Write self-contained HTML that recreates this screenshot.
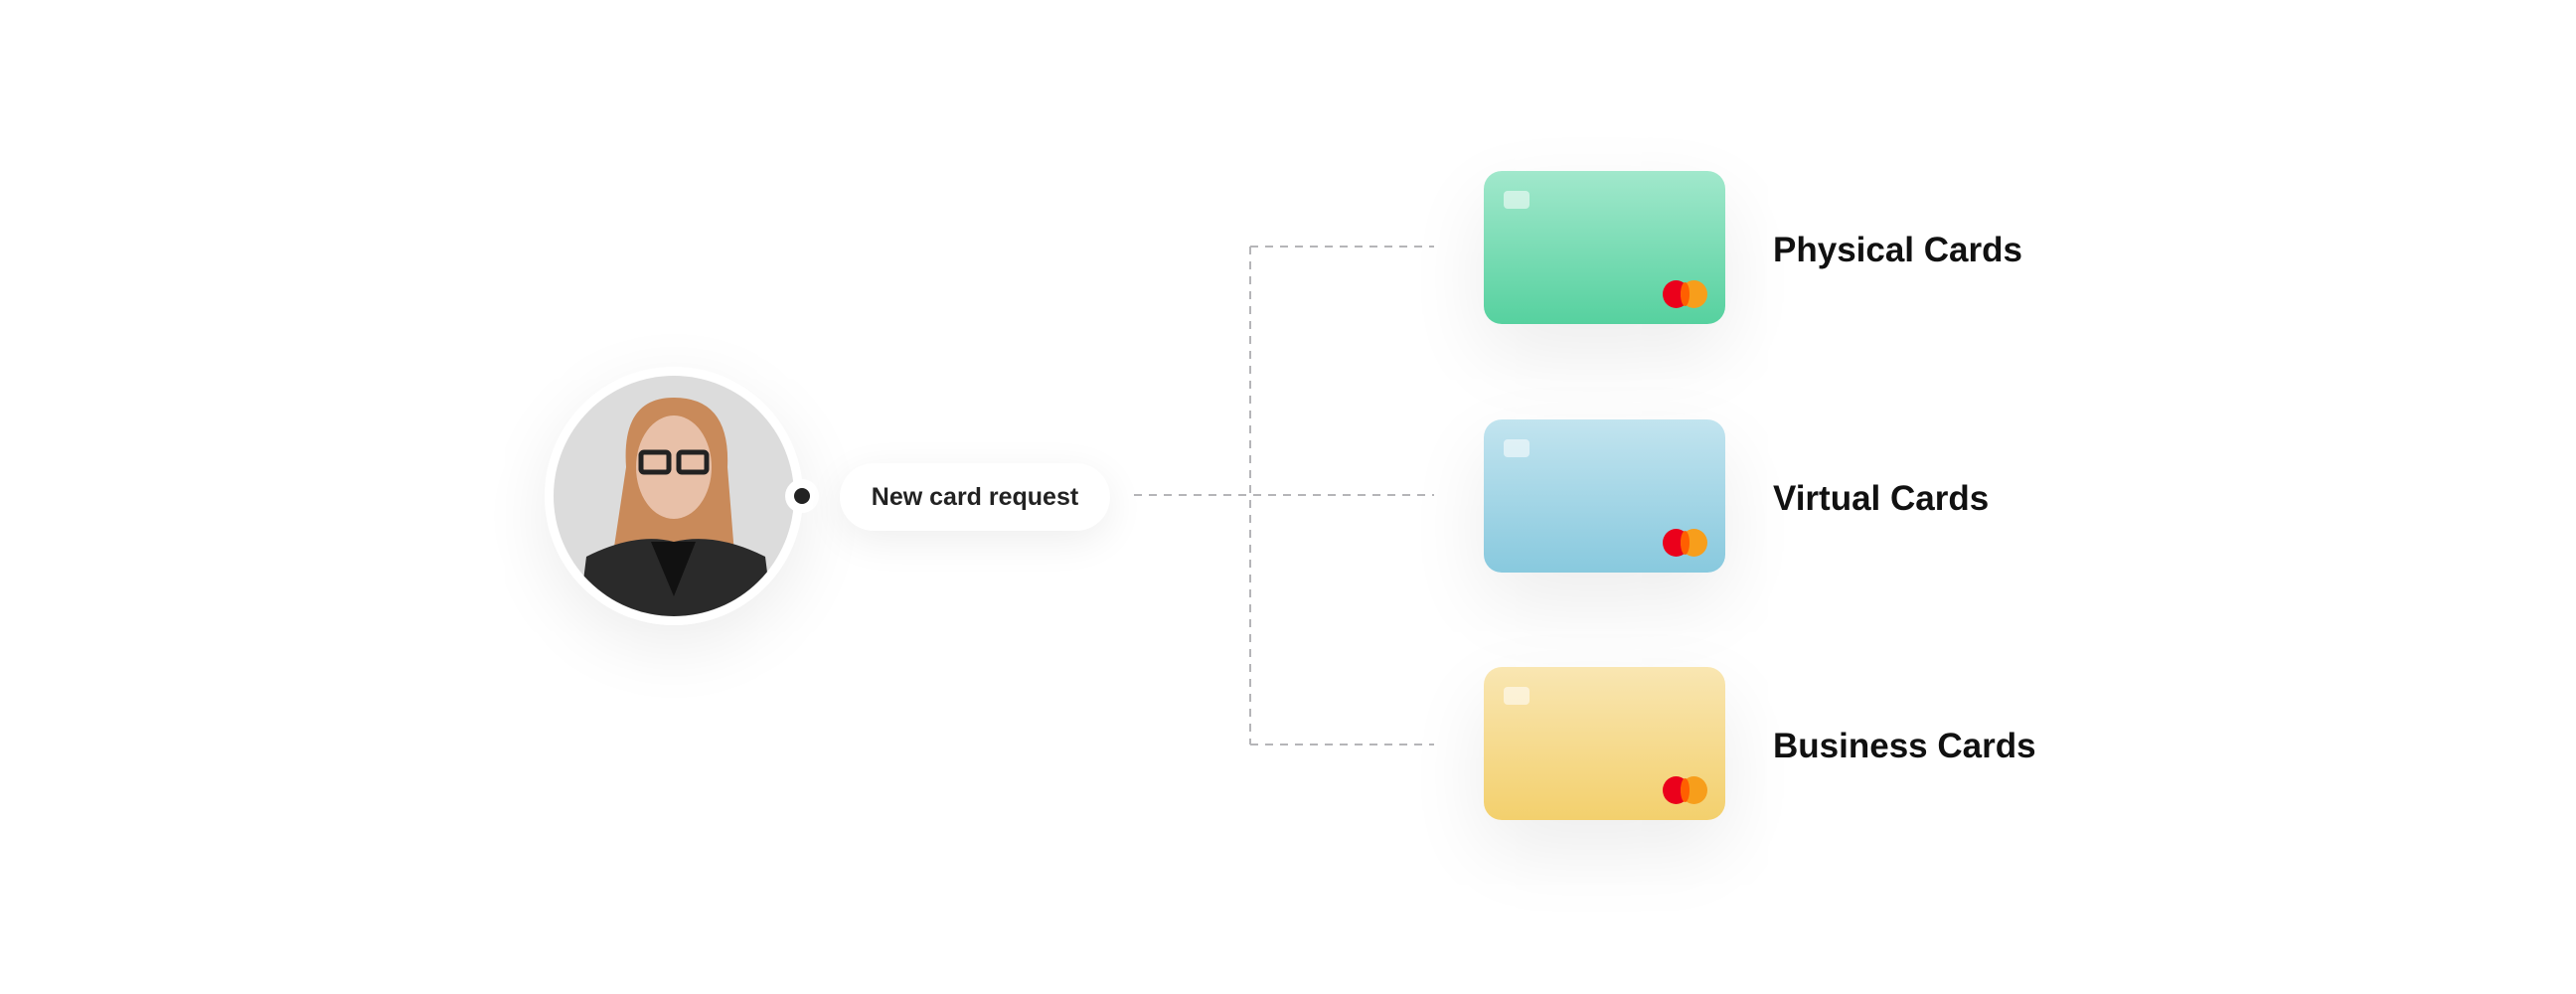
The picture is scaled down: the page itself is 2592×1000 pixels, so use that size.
<!DOCTYPE html>
<html><head><style>
body{margin:0;width:2592px;height:1000px;background:#fff;position:relative;overflow:hidden;font-family:"Liberation Sans",sans-serif}
.abs{position:absolute}
.card{position:absolute;left:1493px;width:243px;height:154px;border-radius:18px;box-shadow:0 30px 80px rgba(0,0,0,0.08)}
.chip{position:absolute;left:20px;top:20px;width:26px;height:18px;border-radius:4px;background:rgba(255,255,255,0.55)}
.mc1,.mc2{position:absolute;top:110px;width:27px;height:28px;border-radius:50%}
.mc1{left:180px;background:#eb001b}
.mc2{left:198px;background:#f79e1b}
.mcm{position:absolute;top:112px;left:198px;width:9px;height:24px;background:#ff5f00;border-radius:50%}
.lbl{position:absolute;left:1784px;font-size:35px;font-weight:bold;color:#111}
</style></head><body>
<div class="abs" style="left:548px;top:369px;width:260px;height:260px;border-radius:50%;box-shadow:0 20px 70px rgba(0,0,0,0.08)"></div>
<svg class="abs" style="left:0;top:0" width="2592" height="1000">
<g stroke="#b5b5b8" stroke-width="2" stroke-dasharray="8,7" fill="none">
<line x1="1141" y1="498" x2="1443" y2="498"/>
<line x1="1258" y1="248" x2="1258" y2="749"/>
<line x1="1258" y1="248" x2="1443" y2="248"/>
<line x1="1258" y1="749" x2="1443" y2="749"/>
</g>
<circle cx="678" cy="499" r="130" fill="#fff"/>
<clipPath id="c"><circle cx="678" cy="499" r="121"/></clipPath>
<g clip-path="url(#c)">
<rect x="550" y="370" width="260" height="260" fill="#dcdcdc"/>
<path d="M630 470 Q625 400 678 400 Q735 400 732 470 L740 570 L615 570 Z" fill="#c98a5a"/>
<ellipse cx="678" cy="470" rx="38" ry="52" fill="#e8c0a8"/>
<rect x="645" y="455" width="28" height="20" rx="3" fill="none" stroke="#222" stroke-width="5"/>
<rect x="683" y="455" width="28" height="20" rx="3" fill="none" stroke="#222" stroke-width="5"/>
<path d="M580 640 L590 560 Q640 535 678 545 Q720 535 770 560 L780 640 Z" fill="#2a2a2a"/>
<path d="M655 545 L678 600 L700 545 Z" fill="#111"/>
</g>
<circle cx="807" cy="499" r="17" fill="#fff"/>
<circle cx="807" cy="499" r="8" fill="#222"/>
</svg>
<div class="abs" style="left:845px;top:466px;width:272px;height:68px;border-radius:34px;background:#fff;box-shadow:0 10px 40px rgba(0,0,0,0.07);font-size:25px;font-weight:bold;color:#222;line-height:68px;text-align:center">New card request</div>
<div class="card" style="top:172px;background:linear-gradient(#a1e8cc,#56d19f)"><div class="chip"></div><div class="mc1"></div><div class="mc2"></div><div class="mcm"></div></div>
<div class="card" style="top:422px;background:linear-gradient(#c2e4ef,#88c9de)"><div class="chip"></div><div class="mc1"></div><div class="mc2"></div><div class="mcm"></div></div>
<div class="card" style="top:671px;background:linear-gradient(#f9e6b2,#f3d06d)"><div class="chip"></div><div class="mc1"></div><div class="mc2"></div><div class="mcm"></div></div>
<div class="lbl" style="top:232px">Physical Cards</div>
<div class="lbl" style="top:482px">Virtual Cards</div>
<div class="lbl" style="top:731px">Business Cards</div>
</body></html>
